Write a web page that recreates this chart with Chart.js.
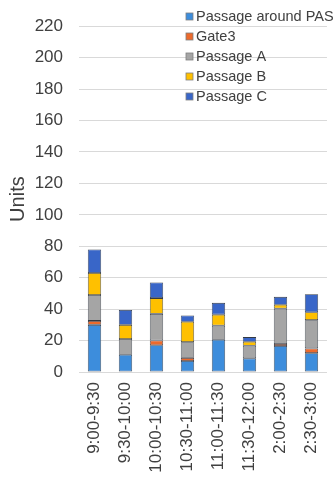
<!DOCTYPE html>
<html>
<head>
<meta charset="utf-8">
<script src="https://cdn.jsdelivr.net/npm/chart.js@4/dist/chart.umd.min.js"></script>
<style>
  html, body { margin: 0; padding: 0; background: #ffffff; overflow: hidden; }
  #wrap { position: relative; width: 342px; height: 481px; }
</style>
</head>
<body>
<div id="wrap"><canvas id="c" width="342" height="481"></canvas></div>
<script>
// Half-hour time slots
const categories = ['9:00-9:30', '9:30-10:00', '10:00-10:30', '10:30-11:00',
                    '11:00-11:30', '11:30-12:00', '2:00-2:30', '2:30-3:00'];

// Counts per location (stacked bottom to top); null = nothing recorded
const passageAroundPAS = [30, 11, 17, 7, 20.5, 8.7, 16.5, 12];
const gate3            = [2.5, null, 3, 2, null, null, 1.3, 3];
const passageA         = [16.5, 10, 17, 10, 9, 8, 22.5, 18];
const passageB         = [14, 9, 10, 13, 7, 2.5, 2.5, 5];
const passageC         = [15, 9.5, 10, 4, 7.5, 3, 5, 11.5];

const seriesNames = ['Passage around PAS', 'Gate3', 'Passage A', 'Passage B', 'Passage C'];
const seriesColors = ['#3d8ddc', '#ec6a2c', '#a5a5a5', '#ffc000', '#3966c8'];
const seriesValues = [passageAroundPAS, gate3, passageA, passageB, passageC];

const FONT = "'Liberation Sans', Arial, sans-serif";
const TEXT = '#404040';

// Legend drawn over the plot area, top-right
const overlayLegend = {
  id: 'overlayLegend',
  afterDraw(chart) {
    const ctx = chart.ctx;
    ctx.save();
    ctx.font = '14.5px ' + FONT;
    ctx.textBaseline = 'middle';
    ctx.textAlign = 'left';
    chart.data.datasets.forEach((ds, i) => {
      const y = 17 + i * 20;
      ctx.fillStyle = ds.backgroundColor;
      ctx.fillRect(186, y - 4, 7, 7);
      ctx.strokeStyle = '#7f7f7f';
      ctx.lineWidth = 0.8;
      ctx.strokeRect(186, y - 4, 7, 7);
      ctx.fillStyle = TEXT;
      ctx.fillText(ds.label, 196, y);
    });
    ctx.restore();
  }
};

new Chart(document.getElementById('c'), {
  type: 'bar',
  data: {
    labels: categories,
    datasets: seriesNames.map((name, i) => ({
      label: name,
      data: seriesValues[i],
      backgroundColor: seriesColors[i],
      borderColor: '#333a44',
      borderWidth: 0.8,
      borderSkipped: false,
      categoryPercentage: 1,
      barPercentage: 0.43
    }))
  },
  options: {
    responsive: false,
    animation: false,
    layout: { padding: { top: 23, right: 2, bottom: 0, left: 0 } },
    plugins: {
      legend: { display: false },
      tooltip: { enabled: false }
    },
    scales: {
      x: {
        stacked: true,
        grid: { display: false, drawTicks: false },
        border: { display: false },
        ticks: {
          minRotation: 90,
          maxRotation: 90,
          autoSkip: false,
          padding: 10,
          color: TEXT,
          font: { family: FONT, size: 17 }
        },
        afterFit(scale) { scale.height = 109; }
      },
      y: {
        stacked: true,
        min: 0,
        max: 220,
        grid: { color: '#d9d9d9', lineWidth: 1, drawTicks: false },
        border: { display: false },
        ticks: {
          stepSize: 20,
          padding: 16,
          color: TEXT,
          font: { family: FONT, size: 17 }
        },
        title: {
          display: true,
          text: 'Units',
          color: TEXT,
          padding: { top: 6, bottom: 0 },
          font: { family: FONT, size: 20 }
        },
        afterFit(scale) { scale.width = 79; }
      }
    }
  },
  plugins: [overlayLegend]
});
</script>
</body>
</html>
